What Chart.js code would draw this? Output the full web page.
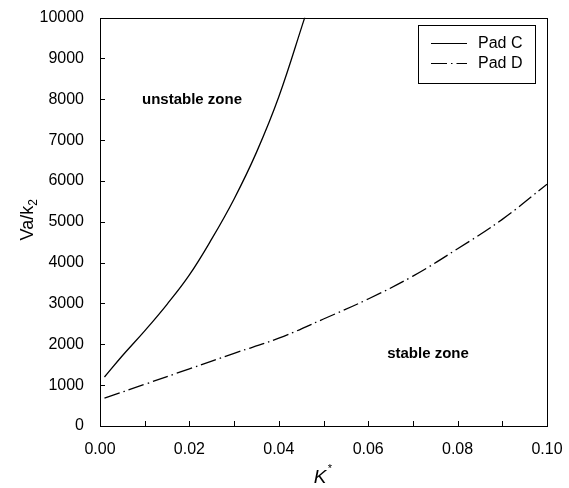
<!DOCTYPE html>
<html>
<head>
<meta charset="utf-8">
<script src="https://cdn.jsdelivr.net/npm/chart.js@4.4.1/dist/chart.umd.min.js"></script>
<style>
  html, body { margin: 0; padding: 0; background: #fff; }
  #wrap { width: 569px; height: 488px; }
</style>
</head>
<body>
<div id="wrap"><canvas id="mainChart" width="569" height="488"></canvas></div>
<script>
// ========== 데이터 ==========
const padCK  = [0.001, 0.005, 0.010, 0.015, 0.020, 0.025, 0.030, 0.035, 0.040, 0.0458];
const padCVa = [1200, 1720, 2330, 2980, 3700, 4580, 5560, 6700, 8060, 10000];

const padDK  = [0.001, 0.010, 0.020, 0.030, 0.040, 0.050, 0.060, 0.070, 0.080, 0.090, 0.100];
const padDVa = [680, 1020, 1400, 1780, 2150, 2620, 3110, 3670, 4340, 5060, 5920];

const seriesNames = ['Pad C', 'Pad D'];
const yTickValues = [0, 1000, 2000, 3000, 4000, 5000, 6000, 7000, 8000, 9000, 10000];
const xTickValues = [0, 0.01, 0.02, 0.03, 0.04, 0.05, 0.06, 0.07, 0.08, 0.09, 0.10];
const xLabelValues = [0, 0.02, 0.04, 0.06, 0.08, 0.10];
const zoneLabels = ['unstable zone', 'stable zone'];

const FONT = '"Liberation Sans", Arial, sans-serif';
const padDDash = [16, 4, 1.5, 4];

function toPoints(xs, ys) {
    const pts = [];
    for (let i = 0; i < xs.length; i++) pts.push({ x: xs[i], y: ys[i] });
    return pts;
}

// 프레임, 눈금, 제목, 범례, 주석
const decorPlugin = {
    id: 'decor',
    afterDraw(chart) {
        const ctx = chart.ctx;
        const a = chart.chartArea;
        const xs = chart.scales.x;
        const ys = chart.scales.y;
        ctx.save();
        ctx.strokeStyle = '#000';
        ctx.lineWidth = 1;

        // 테두리
        ctx.strokeRect(Math.round(a.left) + 0.5, Math.round(a.top) + 0.5,
            Math.round(a.right - a.left), Math.round(a.bottom - a.top));

        // 안쪽 눈금
        ctx.beginPath();
        for (let i = 0; i < yTickValues.length; i++) {
            const py = Math.round(ys.getPixelForValue(yTickValues[i])) + 0.5;
            ctx.moveTo(a.left, py);
            ctx.lineTo(a.left + 5, py);
        }
        for (let i = 0; i < xTickValues.length; i++) {
            const px = Math.round(xs.getPixelForValue(xTickValues[i])) + 0.5;
            ctx.moveTo(px, a.bottom);
            ctx.lineTo(px, a.bottom - 5);
        }
        ctx.stroke();

        ctx.fillStyle = '#000';

        // y축 제목 Va/k2
        ctx.save();
        ctx.translate(28, 220);
        ctx.rotate(-Math.PI / 2);
        ctx.font = '11px ' + FONT;
        const subW = ctx.measureText('2').width;
        ctx.font = '18px ' + FONT;
        const mainTxt = 'Va/k';
        const mainW = ctx.measureText(mainTxt).width;
        const startX = -(mainW + subW) / 2;
        ctx.textBaseline = 'middle';
        ctx.textAlign = 'left';
        ctx.fillText(mainTxt, startX, 0);
        ctx.font = '12px ' + FONT;
        ctx.fillText('2', startX + mainW, 6);
        ctx.restore();

        // x축 제목 K*
        ctx.save();
        ctx.font = 'italic 19px ' + FONT;
        ctx.textBaseline = 'middle';
        ctx.textAlign = 'center';
        ctx.fillText('K', 320, 478);
        ctx.font = '11px ' + FONT;
        ctx.fillText('*', 330, 469);
        ctx.restore();

        // 영역 라벨
        ctx.font = 'bold 15px ' + FONT;
        ctx.textAlign = 'center';
        ctx.textBaseline = 'middle';
        ctx.fillText(zoneLabels[0], 192, 100);
        ctx.fillText(zoneLabels[1], 428, 354);

        // 범례
        ctx.strokeRect(418.5, 25.5, 117, 58);
        const rows = [43, 63];
        const dsList = chart.data.datasets;
        for (let i = 0; i < dsList.length; i++) {
            ctx.beginPath();
            ctx.setLineDash(dsList[i].borderDash || []);
            ctx.lineWidth = 1.2;
            ctx.moveTo(431, rows[i] + 0.5);
            ctx.lineTo(467, rows[i] + 0.5);
            ctx.stroke();
            ctx.setLineDash([]);
            ctx.font = '16px ' + FONT;
            ctx.textAlign = 'left';
            ctx.fillText(dsList[i].label, 478, rows[i] + 1);
        }
        ctx.restore();
    }
};

const ctx = document.getElementById('mainChart');
new Chart(ctx, {
    type: 'line',
    data: {
        datasets: [
            {
                label: seriesNames[0],
                data: toPoints(padCK, padCVa),
                borderColor: '#000',
                borderWidth: 1.3,
                pointRadius: 0,
                tension: 0.4,
                fill: false
            },
            {
                label: seriesNames[1],
                data: toPoints(padDK, padDVa),
                borderColor: '#000',
                borderWidth: 1.3,
                borderDash: padDDash,
                pointRadius: 0,
                tension: 0.4,
                fill: false
            }
        ]
    },
    options: {
        responsive: false,
        animation: false,
        events: [],
        layout: { padding: { left: 0, top: 13, right: 22, bottom: 0 } },
        plugins: {
            legend: { display: false },
            tooltip: { enabled: false }
        },
        scales: {
            x: {
                type: 'linear',
                min: 0,
                max: 0.1,
                grid: { display: false },
                border: { display: false },
                afterFit(scale) { scale.height = 62; },
                afterBuildTicks(scale) {
                    scale.ticks = xLabelValues.map(v => ({ value: v }));
                },
                ticks: {
                    color: '#000',
                    padding: 6,
                    maxRotation: 0,
                    autoSkip: false,
                    font: { family: FONT, size: 16 },
                    callback: (v) => Number(v).toFixed(2)
                }
            },
            y: {
                min: 0,
                max: 10000,
                grid: { display: false },
                border: { display: false },
                afterFit(scale) { scale.width = 100; },
                afterBuildTicks(scale) {
                    scale.ticks = yTickValues.map(v => ({ value: v }));
                },
                ticks: {
                    color: '#000',
                    padding: 8,
                    autoSkip: false,
                    font: { family: FONT, size: 16 },
                    callback: (v) => String(v)
                }
            }
        }
    },
    plugins: [decorPlugin]
});
</script>
</body>
</html>
